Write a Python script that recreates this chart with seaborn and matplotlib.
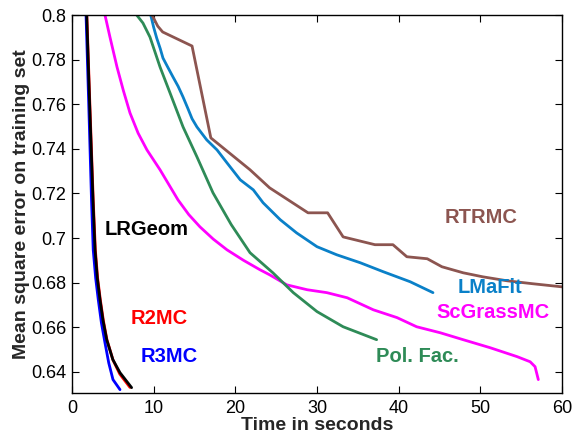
import matplotlib
matplotlib.use("Agg")
import matplotlib.pyplot as plt
import seaborn as sns
import pandas as pd

# ---- data ----
rtrmc_t = [9.8, 10.5, 11.1, 14.7, 17.0, 21.8, 24.2, 28.9, 31.3, 33.2, 37.1, 39.3, 41.0, 43.5, 45.3, 47.9, 50.3, 53.3, 56.4, 60.0]
rtrmc_e = [0.800, 0.795, 0.7924, 0.7861, 0.7449, 0.7306, 0.7225, 0.7113, 0.7113, 0.7005, 0.697, 0.697, 0.6916, 0.6907, 0.6871, 0.6844, 0.6826, 0.6808, 0.6795, 0.6781]

lmafit_t = [9.64, 10.0, 10.37, 10.8, 11.14, 11.7, 12.37, 13.0, 13.59, 14.2, 14.7, 15.3, 16.5, 17.76, 18.98, 20.6, 22.2, 23.4, 25.5, 27.5, 30.0, 32.4, 35.3, 38.1, 41.4, 44.2]
lmafit_e = [0.800, 0.7945, 0.7897, 0.7850, 0.7807, 0.7768, 0.7722, 0.7680, 0.7633, 0.7580, 0.7535, 0.7498, 0.744, 0.7395, 0.7337, 0.7261, 0.7216, 0.7158, 0.7082, 0.7023, 0.6961, 0.6925, 0.6889, 0.6849, 0.6804, 0.6755]

polfac_t = [7.92, 8.69, 9.55, 10.78, 12.0, 13.6, 15.3, 17.26, 19.5, 21.8, 24.6, 27.1, 30.0, 33.2, 37.3]
polfac_e = [0.800, 0.7964, 0.7901, 0.7767, 0.7651, 0.7498, 0.7364, 0.7203, 0.706, 0.6934, 0.6844, 0.6755, 0.667, 0.6602, 0.6544]

scgrass_t = [4.04, 4.65, 5.51, 6.3, 7.1, 8.1, 9.18, 10.78, 12.98, 14.3, 15.67, 17.3, 18.98, 21.0, 23.0, 24.2, 26.3, 28.8, 31.2, 33.7, 36.9, 39.8, 42.2, 45.1, 47.9, 51.2, 54.5, 56.1, 56.7, 57.1]
scgrass_e = [0.800, 0.7901, 0.7767, 0.7660, 0.7561, 0.7470, 0.7395, 0.7306, 0.7171, 0.7105, 0.705, 0.6995, 0.6947, 0.6900, 0.6858, 0.6835, 0.679, 0.6768, 0.6755, 0.6732, 0.6678, 0.6643, 0.6602, 0.6575, 0.6544, 0.6508, 0.6468, 0.6445, 0.6423, 0.6365]

lrgeom_t = [1.8, 2.14, 2.57, 2.82, 3.1, 3.43, 3.8, 4.25, 5.0, 5.88, 7.3]
lrgeom_e = [0.800, 0.762, 0.717, 0.6947, 0.6820, 0.6723, 0.6630, 0.6544, 0.6455, 0.6396, 0.6329]

r2mc_t = [1.82, 2.17, 2.6, 2.86, 3.14, 3.47, 3.84, 4.28, 5.02, 5.85, 7.1]
r2mc_e = [0.800, 0.762, 0.717, 0.6947, 0.6820, 0.6723, 0.6630, 0.6544, 0.6453, 0.6390, 0.6330]

r3mc_t = [1.72, 2.05, 2.39, 2.6, 2.9, 3.22, 3.6, 4.04, 4.5, 5.02, 5.88]
r3mc_e = [0.800, 0.760, 0.717, 0.6947, 0.6820, 0.6723, 0.6620, 0.653, 0.6440, 0.6365, 0.632]

series = [
    ("R2MC", r2mc_t, r2mc_e, "#ff0000"),
    ("R3MC", r3mc_t, r3mc_e, "#0000ff"),
    ("LRGeom", lrgeom_t, lrgeom_e, "#000000"),
    ("ScGrassMC", scgrass_t, scgrass_e, "#ff00ff"),
    ("Pol. Fac.", polfac_t, polfac_e, "#2e8b57"),
    ("LMaFit", lmafit_t, lmafit_e, "#0a80c8"),
    ("RTRMC", rtrmc_t, rtrmc_e, "#8c5550"),
]

labels = [
    ("LRGeom", 4.0, 0.704, "#000000"),
    ("R2MC", 7.2, 0.6638, "#ff0000"),
    ("R3MC", 8.4, 0.6468, "#0000ff"),
    ("LMaFit", 47.2, 0.6777, "#0a80c8"),
    ("ScGrassMC", 44.6, 0.6665, "#ff00ff"),
    ("Pol. Fac.", 37.2, 0.6468, "#2e8b57"),
    ("RTRMC", 45.6, 0.709, "#8c5550"),
]

xticks = [0, 10, 20, 30, 40, 50, 60]
yticks = [0.64, 0.66, 0.68, 0.70, 0.72, 0.74, 0.76, 0.78, 0.80]
ytick_labels = ["0.64", "0.66", "0.68", "0.7", "0.72", "0.74", "0.76", "0.78", "0.8"]

sns.set_style("ticks")
plt.rcParams['font.family'] = ['Liberation Sans', 'DejaVu Sans']

fig = plt.figure(figsize=(5.75, 4.34), dpi=100)
ax = fig.add_axes([0.1252, 0.0945, 0.8522, 0.8709])

for name, t, e, c in series:
    df = pd.DataFrame({"t": t, "e": e})
    sns.lineplot(data=df, x="t", y="e", ax=ax, color=c, linewidth=2.0, sort=False, estimator=None)

for text, x, y, c in labels:
    ax.text(x, y, text, color=c, fontsize=14.5, fontweight="bold", va="center", ha="left")

ax.set_xlim(0, 60)
ax.set_ylim(0.6305, 0.8)
ax.set_xticks(xticks)
ax.set_xticklabels([str(v) for v in xticks])
ax.set_yticks(yticks)
ax.set_yticklabels(ytick_labels)
ax.tick_params(direction="in", top=True, right=True, length=5, width=0.8, labelsize=13, colors="black")
ax.tick_params(axis="x", pad=5)
ax.tick_params(axis="y", pad=4)
for s in ax.spines.values():
    s.set_visible(True)
    s.set_linewidth(1.0)
    s.set_color("black")
ax.set_xlabel("Time in seconds", fontsize=14, fontweight="bold", labelpad=0)
ax.set_ylabel("Mean square error on training set", fontsize=14, fontweight="bold", labelpad=1)

fig.savefig("out.png", dpi=100)
